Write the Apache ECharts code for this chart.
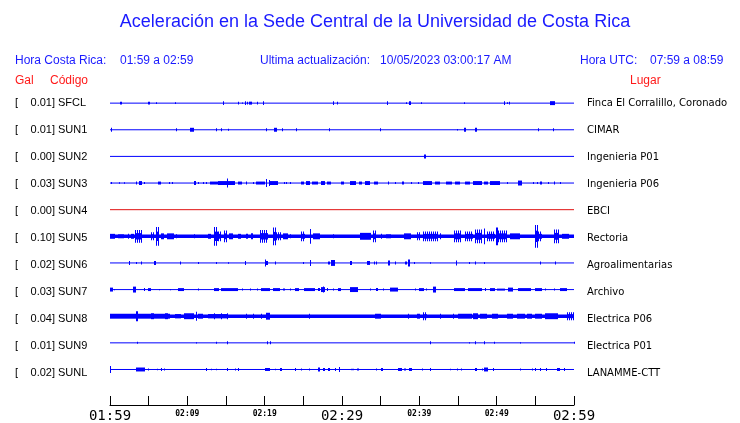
<!DOCTYPE html>
<html>
<head>
<meta charset="utf-8">
<script src="https://cdn.jsdelivr.net/npm/echarts@6/dist/echarts.min.js"></script>
<style>
html,body{margin:0;padding:0;background:#fff;}
#chart{width:740px;height:423px;}
</style>
</head>
<body>
<div id="chart"></div>
<script>
// ---- data ----
const stationCodes = ['SFCL','SUN1','SUN2','SUN3','SUN4','SUN5','SUN6','SUN7','SUN8','SUN9','SUNL'];
const galValues = ['0.01','0.01','0.00','0.03','0.00','0.10','0.02','0.03','0.04','0.01','0.02'];
const places = ['Finca El Corralillo, Coronado','CIMAR','Ingenieria P01','Ingenieria P06','EBCI','Rectoria','Agroalimentarias','Archivo','Electrica P06','Electrica P01','LANAMME-CTT'];
// x axis: minutes after 01:59, ticks every 5 minutes
const tickLabels = ['01:59','02:04','02:09','02:14','02:19','02:24','02:29','02:34','02:39','02:44','02:49','02:54','02:59'];
const majorTicks = ['01:59','02:29','02:59'];
const minorTicks = ['02:09','02:19','02:39','02:49'];
// events per trace: [startMinute, endMinute, halfAmplitude]
const sfcl = [[1.3,1.3,1.5],[1.42,1.42,1.5],[4.97,5.22,1.5],[5.96,5.96,1],[8.38,8.38,1],[14.6,14.6,2],[16.5,16.5,1.5],[17.05,17.05,0.7],[17.5,17.5,2],[17.7,17.7,1.5],[18.0,18.35,1.5],[19.0,19.0,1.5],[19.8,19.8,2],[28.8,28.8,2],[29.4,29.4,1.5],[35.8,35.8,2],[38.3,38.3,1],[38.6,38.9,2],[40.2,40.2,1],[45.8,45.8,1],[51.0,51.0,2],[51.4,51.4,1],[51.6,51.6,1.5],[56.9,57.6,2]];
const sun1 = [[0.13,0.13,2],[8.55,8.55,1.5],[10.4,10.8,2],[13.7,13.7,1.5],[14.3,14.3,1.5],[15.2,15.2,1],[20.2,20.2,1.5],[21.2,21.6,2],[22.2,22.2,1.5],[24.05,24.05,1.5],[28.3,28.3,1.5],[34.9,34.9,1.5],[44.9,44.9,0.7],[45.8,46.0,2],[47.2,47.4,2],[55.3,55.3,1.5],[57.3,57.3,1.5]];
const sun2 = [[40.6,40.8,2]];
const sun3 = [[0.13,0.13,1],[1.1,1.1,0.7],[1.8,1.8,0.7],[3.3,3.45,1.5],[3.8,4.15,2],[4.35,4.35,1],[6.25,6.55,1.5],[7.6,7.6,1],[8.0,8.0,1],[10.9,11.15,2],[11.35,11.35,1],[12.0,12.0,1],[12.4,12.4,1],[12.9,13.95,1.5],[13.95,14.8,2],[15.15,15.15,4.5],[14.8,16.1,2],[16.5,17.05,1.5],[17.6,17.6,1.5],[18.5,18.5,1],[18.9,20.0,1.5],[20.2,20.2,4],[20.5,20.5,3],[20.6,21.7,2],[22.45,22.45,1],[22.8,22.8,1],[23.3,23.3,1],[24.75,25.1,1.5],[25.4,25.8,2],[26.1,26.9,1.5],[27.25,27.75,2],[28.1,28.6,1.5],[29.85,30.3,1.5],[31.0,31.85,2],[32.15,32.6,1.5],[32.95,33.6,2],[34.15,34.6,1.5],[36.0,36.0,1.5],[36.8,36.8,1],[37.7,38.05,1.5],[38.9,38.9,1],[39.85,39.85,1],[40.5,41.6,2],[42.0,42.65,1.5],[43.5,44.2,1.5],[44.6,45.25,1.5],[45.9,46.5,1.5],[47.0,48.05,2],[48.3,48.9,1.5],[49.15,50.4,2],[51.3,51.3,1],[52.8,53.25,2.5],[54.75,54.75,1],[55.2,55.2,1],[55.6,55.8,1.5],[56.6,56.6,1],[57.35,57.55,1.5],[58.2,58.2,1]];
const sun4 = [];
const sun5 = [[0,0.6,2.5],[1.0,1.85,2],[2.3,2.5,2.5],[2.7,3.05,2.5],[3.25,4.1,6.5],[5.3,5.75,4],[5.95,6.4,9.5],[6.6,7.0,3],[7.4,8.3,3],[8.55,8.7,2],[10.85,10.9,2],[12.65,13.1,2.5],[13.5,13.95,9.5],[13.95,14.4,5],[14.8,15.15,6],[15.45,15.9,3],[16.5,16.95,2.5],[17.6,17.8,2.5],[18.25,18.55,3],[19.35,20.4,6.5],[21.1,21.5,9],[21.5,22.05,4],[22.35,23.0,3],[23.25,23.3,2],[24.65,25.2,5],[25.8,26.0,7.5],[26.25,27.1,3],[28.85,28.9,2],[32.3,33.8,3.5],[34.0,34.45,6],[35.1,35.15,2.5],[35.75,36.4,2],[38.0,38.9,3],[39.65,40.1,4],[40.5,42.45,5],[42.65,42.7,3],[44.5,45.45,6],[45.9,47.0,5],[47.2,48.05,7],[48.3,48.5,8],[48.75,49.8,5],[49.95,50.15,9],[50.2,51.3,6],[51.75,53.05,3],[54.95,55.4,11.5],[55.4,55.85,5],[57.35,58.0,7],[58.45,59.3,2.5]];
const sun6 = [[2.5,2.5,2],[3.4,3.4,1],[4.0,4.0,1.5],[5.75,5.95,2],[9.1,9.1,1.5],[11.35,11.35,1],[13.65,13.65,1],[15.25,15.25,0.7],[17.4,17.6,2],[20.0,20.0,3.5],[20.2,20.4,2],[21.3,21.3,1.5],[24.9,24.9,1],[25.8,25.8,3],[28.2,28.4,1.5],[28.6,29.05,3],[31.0,31.35,2],[33.25,33.6,2],[34.15,34.15,1.5],[34.45,34.45,1.5],[36.0,36.2,2.5],[36.9,36.9,1.5],[38.1,38.35,1.5],[38.55,38.75,3.5],[39.35,39.35,1],[41.4,41.4,0.7],[44.7,44.7,2.5],[46.45,46.45,1],[47.2,47.2,1.5],[48.4,48.4,1],[55.6,55.6,1.5],[57.55,57.55,1.5]];
const sun7 = [[0,0.35,2],[0.55,0.55,0.7],[2.95,3.35,3],[4.35,4.35,1.5],[4.95,5.3,1.5],[6.4,6.4,0.7],[7.7,7.7,0.7],[8.75,9.6,1.5],[11.35,11.35,1],[13.5,14.15,1.5],[14.3,16.55,1.5],[17.05,17.05,1],[18.05,18.05,1],[19.0,19.0,1],[19.55,20.65,1.5],[21.05,21.95,1.5],[22.35,22.6,1],[23.25,23.25,1],[23.9,24.5,1.5],[25.05,26.5,1.5],[26.9,27.1,1.5],[27.25,27.75,2.5],[27.55,27.55,3],[28.0,28.2,1.5],[28.85,28.85,1],[29.5,29.9,1.5],[31.0,32.1,2.5],[33.6,33.6,1],[34.45,34.65,1.5],[35.3,35.3,1],[36.2,37.25,2],[39.4,39.4,1],[39.95,40.6,1.5],[40.8,40.8,1],[41.8,42.2,3],[44.5,45.9,1.5],[46.3,48.05,1.5],[48.5,48.5,1.5],[49.15,49.8,1.5],[50.0,51.1,1],[51.5,52.15,2],[52.8,54.5,1.5],[54.95,55.8,1.5],[56.25,56.25,1],[57.35,57.35,1],[58.2,59.05,1.5]];
const sun8 = [[0,3.35,2.5],[3.35,3.6,5],[3.6,7.7,2.5],[5.3,5.75,3],[7.05,7.5,3],[8.35,9.2,2.2],[9.6,10.9,3],[11.1,11.2,4.5],[11.35,12.0,2.5],[12.65,15.25,2.2],[13.5,13.55,3],[14.4,14.45,3],[15.15,15.2,3],[17.6,17.65,2.5],[18.5,18.55,2.5],[19.55,19.6,2.5],[20.2,20.65,3.5],[25.75,25.8,2.5],[34.3,35.1,2.5],[38.55,38.6,2.5],[39.65,40.1,2.5],[40.5,40.95,4],[42.65,42.7,2.5],[44.4,44.45,2.5],[45.05,46.75,2.5],[46.95,47.55,3],[47.85,48.7,2.5],[49.35,50.2,2.5],[51.3,52.15,2.5],[52.6,53.7,2.5],[53.9,54.55,2.5],[54.95,55.8,2.5],[56.25,57.95,3],[59.05,60,4]];
const sun9 = [[3.45,3.45,1],[11.1,11.1,0.7],[13.7,13.7,1],[15.1,15.3,1.5],[20.3,20.3,1.5],[20.7,20.7,1.5],[41.4,41.4,1.5],[46.45,46.45,0.7],[47.2,47.2,1.5],[48.35,48.55,1.5],[49.7,49.7,1],[53.05,53.05,0.7],[60,60,1]];
const sunl = [[0.05,0.05,3.5],[3.3,4.55,2],[4.9,4.9,1],[6.05,6.05,0.7],[6.6,6.6,1.5],[6.95,6.95,1],[12.45,12.45,1.5],[13.0,13.0,0.7],[13.65,13.65,0.7],[15.15,15.3,1.5],[16.1,16.1,1],[16.55,16.55,1.5],[20.1,20.75,1.5],[21.3,21.3,0.7],[21.95,22.3,1.5],[23.9,23.9,1.5],[24.75,24.75,1],[25.75,25.75,1],[26.9,27.1,2],[27.55,27.85,1.5],[28.2,28.5,1.5],[29.05,29.05,1.5],[29.6,29.6,2.5],[31.2,31.55,0.7],[31.95,32.2,1],[34.45,34.45,1],[35.1,35.3,1.5],[37.25,37.7,1.5],[38.0,38.25,1],[38.65,39.1,1.5],[40.3,40.3,1],[41.35,41.35,1.5],[43.95,43.95,0.7],[44.9,44.9,1],[45.4,45.4,1],[47.2,47.4,1.5],[48.05,48.05,1],[48.4,48.85,2],[49.5,49.7,1.5],[53.0,53.0,1],[54.55,54.55,1],[54.9,54.9,1.5],[55.6,55.6,1.5],[56.4,56.4,1.5],[57.8,58.2,1.5],[58.65,58.65,1.5]];
const traces = [sfcl, sun1, sun2, sun3, sun4, sun5, sun6, sun7, sun8, sun9, sunl];

// ---- styling ----
const ROW = 27;
const BLUE = '#0000ff';
const TXT_BLUE = '#1a1aff';
const RED = '#ff1a1a';
const traceColors = stationCodes.map(c => c === 'SUN4' ? '#e01010' : BLUE);
const baseWidths = stationCodes.map(c => (c === 'SUN5' || c === 'SUN8') ? 3.5 : 1);

const chart = echarts.init(document.getElementById('chart'), null, {renderer: 'canvas'});

const series = [];
traces.forEach((ev, r) => {
  const base = -ROW * r;
  series.push({
    type: 'line', data: [[0, base], [60, base]], symbol: 'none', silent: true,
    lineStyle: {color: traceColors[r], width: baseWidths[r]}, z: 2
  });
  series.push({
    type: 'custom', data: ev, silent: true, z: 3, clip: false,
    encode: {x: [0, 1], y: 2},
    renderItem: (params, api) => {
      const t0 = api.value(0), t1 = api.value(1), a = api.value(2);
      const pTop = api.coord([t0, base + a]);
      const pBot = api.coord([t1, base - a]);
      const yc = api.coord([t0, base])[1];
      const x = Math.round(pTop[0]);
      const w = Math.max(1, Math.round(pBot[0]) - x);
      const color = traceColors[r];
      if (a < 4 || w < 3) {
        return {type: 'rect', shape: {x: x, y: pTop[1], width: w, height: pBot[1] - pTop[1]}, style: {fill: color}};
      }
      // larger bursts: solid core plus comb of 1px full-amplitude strokes
      const hA = yc - pTop[1], hC = hA * 0.5;
      const children = [{type: 'rect', shape: {x: x, y: yc - hC, width: w, height: 2 * hC}, style: {fill: color}}];
      for (let i = 0; i < w; i += 2) {
        children.push({type: 'rect', shape: {x: x + i, y: yc - hA, width: 1, height: 2 * hA}, style: {fill: color}});
      }
      return {type: 'group', children: children};
    }
  });
});

const graphics = [];
function txt(text, x, y, font, fill, align) {
  graphics.push({type: 'text', silent: true, style: {text, x, y, font, fill, align: align || 'left', verticalAlign: 'middle'}});
}
txt('Aceleración en la Sede Central de la Universidad de Costa Rica', 375, 22, '18px "Liberation Sans", Arial, sans-serif', TXT_BLUE, 'center');
const HF = '12px "Liberation Sans", Arial, sans-serif';
txt('Hora Costa Rica:', 15, 61, HF, TXT_BLUE);
txt('01:59 a 02:59', 120, 61, HF, TXT_BLUE);
txt('Ultima actualización:', 260, 61, HF, TXT_BLUE);
txt('10/05/2023 03:00:17 AM', 380, 61, HF, TXT_BLUE);
txt('Hora UTC:', 580, 61, HF, TXT_BLUE);
txt('07:59 a 08:59', 650, 61, HF, TXT_BLUE);
txt('Gal', 15, 81, HF, RED);
txt('Código', 50, 81, HF, RED);
txt('Lugar', 630, 81, HF, RED);
const LF = '11px "Liberation Sans", Arial, sans-serif';
const RF = '10px "DejaVu Sans", sans-serif';
stationCodes.forEach((c, r) => {
  const y = 103 + ROW * r;
  txt('[', 15, y, LF, '#000');
  txt(galValues[r] + ']', 55, y, LF, '#000', 'right');
  txt(c, 58, y, LF, '#000');
  txt(places[r], 587, y, RF, '#000');
});

chart.setOption({
  backgroundColor: '#fff',
  animation: false,
  grid: {left: 110, right: 166, top: 76.5, bottom: 13.5},
  xAxis: {
    type: 'value', min: 0, max: 60, interval: 5,
    axisLine: {show: true, onZero: false, lineStyle: {color: '#000', width: 1}},
    axisTick: {show: true, inside: true, length: 9, lineStyle: {color: '#000'}},
    splitLine: {show: false},
    axisLabel: {
      margin: 4, color: '#000',
      formatter: v => {
        const lab = tickLabels[Math.round(v / 5)];
        if (majorTicks.includes(lab)) return '{big|' + lab + '}';
        if (minorTicks.includes(lab)) return '{small|' + lab + '}';
        return '';
      },
      rich: {
        big: {fontFamily: 'DejaVu Sans Mono', fontSize: 14, lineHeight: 14, color: '#000'},
        small: {fontFamily: 'DejaVu Sans Mono', fontSize: 8, fontWeight: 'bold', lineHeight: 8, color: '#000', padding: [1, 0, 0, 0]}
      }
    }
  },
  yAxis: {type: 'value', min: -306, max: 27, show: false},
  graphic: graphics,
  series: series
});
</script>
</body>
</html>
